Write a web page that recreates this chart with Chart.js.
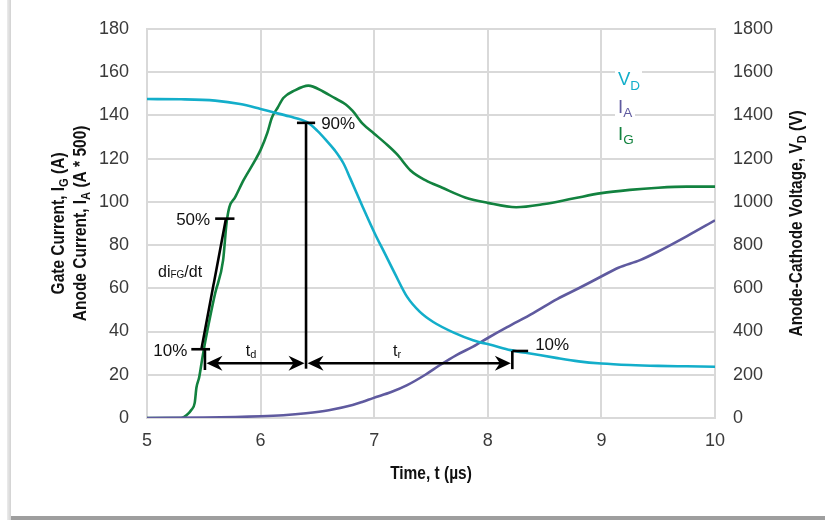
<!DOCTYPE html>
<html>
<head>
<meta charset="utf-8">
<script src="https://cdn.jsdelivr.net/npm/chart.js@4.4.1/dist/chart.umd.min.js"></script>
<style>
  html, body { margin: 0; padding: 0; background: #fff; }
  #wrap { position: relative; width: 825px; height: 520px; overflow: hidden; }
  #frameL { position: absolute; left: 7px; top: 0; width: 4px; height: 520px; background: linear-gradient(to right, #ececec, #d2d2d2); }
  #frameB { position: absolute; left: 11px; bottom: 0; width: 814px; height: 4px; background: #9e9e9e; }
  canvas { position: absolute; left: 0; top: 0; }
</style>
</head>
<body>
<div id="wrap">
  <div id="frameL"></div>
  <div id="frameB"></div>
  <canvas id="switchChart" width="825" height="520"></canvas>
</div>
<script>
// Anode-cathode voltage V_D (V), right axis
const vdTime  = [5.0, 5.3, 5.6, 5.82, 6.0, 6.11, 6.25, 6.41, 6.5, 6.58, 6.65, 6.73, 6.79, 6.9, 7.02, 7.08, 7.18, 7.29, 7.4, 7.52, 7.7, 7.87, 8.05, 8.2, 8.4, 8.6, 8.8, 9.0, 9.25, 9.5, 9.75, 10.0];
const vdVolts = [1475, 1474, 1468, 1452, 1429, 1414, 1395, 1368, 1328, 1283, 1240, 1177, 1107, 975, 837, 775, 670, 560, 492, 444, 395, 360, 335, 314, 296, 278, 262, 252, 245, 241, 239, 237];

// Anode current I_A (A * 500), left axis
const iaTime = [5.0, 5.5, 6.0, 6.2, 6.4, 6.6, 6.81, 6.9, 6.99, 7.15, 7.29, 7.45, 7.58, 7.72, 7.87, 8.0, 8.17, 8.4, 8.61, 8.8, 8.99, 9.15, 9.34, 9.5, 9.75, 10.0];
const iaAmps = [0, 0.2, 0.8, 1.3, 2.2, 3.6, 6, 7.5, 9.2, 12, 15.2, 20, 24.5, 29, 33, 37, 42, 48.5, 55, 60, 65.2, 69.5, 73, 77, 84, 91.4];

// Gate current I_G (A), left axis
const igTime = [5.0, 5.3, 5.35, 5.39, 5.42, 5.435, 5.46, 5.485, 5.51, 5.555, 5.6, 5.67, 5.70, 5.725, 5.775, 5.85, 5.95, 6.0, 6.06, 6.1, 6.15, 6.2, 6.3, 6.42, 6.55, 6.65, 6.75, 6.81, 6.9, 7.0, 7.1, 7.2, 7.32, 7.45, 7.6, 7.8, 8.0, 8.25, 8.5, 8.75, 9.0, 9.25, 9.5, 9.75, 10.0];
const igAmps = [0, 0, 1.4, 3.7, 7, 14, 19, 27, 34.6, 46.6, 57.7, 73, 90, 97.5, 102, 110, 119, 124, 132, 139, 143.5, 148, 151.5, 153.7, 151, 148, 145, 142, 136, 131.5, 127, 122, 114.5, 110, 106.5, 102, 99.5, 97.5, 99, 101.5, 104, 105.5, 106.5, 107, 107];

const FONT = '"Liberation Sans", Arial, sans-serif';
const colVD = '#13aeca';
const colIA = '#5f5a9f';
const colIG = '#12823f';
const gridCol = '#d9d9d9';

const toPoints = (xs, ys) => xs.map((t, i) => ({ x: t, y: ys[i] }));

// timing annotations, in axis units (time, left-axis current)
const markSegments = [
  [5.48, 32.2, 5.695, 92.2],   // di/dt slope
  [5.60, 92.2, 5.77, 92.2],    // 50% tick
  [5.39, 31.8, 5.555, 31.8],   // 10% tick
  [5.51, 31.8, 5.51, 22.2],    // t_d start
  [6.32, 136.5, 6.48, 136.5],  // 90% tick
  [6.40, 136.5, 6.40, 22.8],   // t_d end / t_r start
  [8.216, 31.0, 8.355, 31.0],  // right 10% tick
  [8.216, 31.0, 8.216, 22.6]   // t_r end
];
const markArrows = [
  [5.51, 6.40, 25.3],
  [6.40, 8.216, 25.3]
];

function drawRich(ctx, parts, x, y, o) {
  o = o || {};
  ctx.save();
  ctx.translate(x, y);
  if (o.rotate) ctx.rotate(o.rotate);
  ctx.scale(o.sx || 1, 1);
  ctx.fillStyle = o.color || '#000';
  ctx.textBaseline = 'alphabetic';
  ctx.textAlign = 'left';
  const weight = o.bold ? 'bold ' : '';
  let w = 0;
  parts.forEach(p => { ctx.font = weight + p[1] + 'px ' + FONT; w += ctx.measureText(p[0]).width; });
  let cx = o.align === 'left' ? 0 : (o.align === 'right' ? -w : -w / 2);
  parts.forEach(p => {
    ctx.font = weight + p[1] + 'px ' + FONT;
    ctx.fillText(p[0], cx, p[2] || 0);
    cx += ctx.measureText(p[0]).width;
  });
  ctx.restore();
}

function arrowHead(ctx, x, y, dir) {
  ctx.beginPath();
  ctx.moveTo(x, y);
  ctx.lineTo(x - dir * 16, y - 7.5);
  ctx.lineTo(x - dir * 11, y);
  ctx.lineTo(x - dir * 16, y + 7.5);
  ctx.closePath();
  ctx.fill();
}

const timingPlugin = {
  id: 'timing',
  afterDatasetsDraw(chart) {
    const ctx = chart.ctx;
    const xs = chart.scales.x, ys = chart.scales.y;
    const px = t => xs.getPixelForValue(t);
    const py = v => ys.getPixelForValue(v);
    ctx.save();
    ctx.strokeStyle = '#000';
    ctx.fillStyle = '#000';
    ctx.lineWidth = 2.6;
    markSegments.forEach(s => {
      ctx.beginPath();
      ctx.moveTo(px(s[0]), py(s[1]));
      ctx.lineTo(px(s[2]), py(s[3]));
      ctx.stroke();
    });
    markArrows.forEach(a => {
      const x0 = px(a[0]), x1 = px(a[1]), yy = py(a[2]);
      ctx.beginPath();
      ctx.moveTo(x0 + 6, yy);
      ctx.lineTo(x1 - 6, yy);
      ctx.stroke();
      arrowHead(ctx, x0 + 1.5, yy, -1);
      arrowHead(ctx, x1 - 1.5, yy, 1);
    });
    ctx.restore();

    const lab = { color: '#111' };
    drawRich(ctx, [['50%', 17]], px(5.60) - 5, py(92.2) + 6.5, Object.assign({ align: 'right' }, lab));
    drawRich(ctx, [['90%', 17]], px(6.48) + 6, py(136.5) + 6.5, Object.assign({ align: 'left' }, lab));
    drawRich(ctx, [['10%', 17]], px(5.39) - 4, py(31.8) + 6.5, Object.assign({ align: 'right' }, lab));
    drawRich(ctx, [['10%', 17]], px(8.355) + 7, py(31.0) - 0.5, Object.assign({ align: 'left' }, lab));
    drawRich(ctx, [['t', 16], ['d', 11, 1.5]], px(5.87), py(28.6), Object.assign({ align: 'left' }, lab));
    drawRich(ctx, [['t', 16], ['r', 11, 1.5]], px(7.165), py(28.6), Object.assign({ align: 'left' }, lab));
    drawRich(ctx, [['di', 16], ['FG', 10, 1], ['/dt', 16]], px(5.097), py(65.2), Object.assign({ align: 'left' }, lab));
  },
  afterDraw(chart) {
    const ctx = chart.ctx;
    const a = chart.chartArea;
    const mid = (a.top + a.bottom) / 2;
    const up = -Math.PI / 2;
    const t = { bold: true, sx: 0.86, color: '#111', rotate: up };
    drawRich(ctx, [['Gate Current, I', 18], ['G', 13, 4], [' (A)', 18]], 64, mid, t);
    drawRich(ctx, [['Anode Current, I', 18], ['A', 13, 4], [' (A * 500)', 18]], 86, mid, t);
    drawRich(ctx, [['Anode-Cathode Voltage, V', 18], ['D', 13, 4], [' (V)', 18]], 801.5, mid, t);
    drawRich(ctx, [['Time, t (\u00b5s)', 18]], (a.left + a.right) / 2, 479, { bold: true, sx: 0.86, color: '#111' });

    // series labels
    const lx = a.right - 97;
    const items = [['V', 'D', colVD, 85, 27], ['I', 'A', colIA, 112.5, 20], ['I', 'G', colIG, 139.5, 20]];
    items.forEach(it => {
      ctx.fillStyle = '#fff';
      ctx.fillRect(lx - 3, it[3] - 16, it[4], 25);
      drawRich(ctx, [[it[0], 18.5], [it[1], 13.5, 4.5]], lx, it[3], { align: 'left', color: it[2] });
    });
  }
};

const tickFont = { family: FONT, size: 18 };
const plainTick = v => String(v);

new Chart(document.getElementById('switchChart'), {
  type: 'line',
  data: {
    datasets: [
      { label: 'VD', data: toPoints(vdTime, vdVolts), yAxisID: 'y2', borderColor: colVD },
      { label: 'IA', data: toPoints(iaTime, iaAmps), yAxisID: 'y', borderColor: colIA },
      { label: 'IG', data: toPoints(igTime, igAmps), yAxisID: 'y', borderColor: colIG }
    ]
  },
  options: {
    responsive: false,
    animation: false,
    layout: { padding: { top: 28, left: 0, right: 0, bottom: 0 } },
    elements: {
      point: { radius: 0 },
      line: { borderWidth: 2.6, cubicInterpolationMode: 'monotone', fill: false }
    },
    plugins: { legend: { display: false }, tooltip: { enabled: false } },
    scales: {
      x: {
        type: 'linear', min: 5, max: 10,
        ticks: { stepSize: 1, font: tickFont, color: '#3a3a3a', padding: 12, callback: plainTick },
        grid: { color: gridCol, lineWidth: 2, drawTicks: false },
        border: { color: gridCol, width: 2 },
        afterFit(s) { s.height = 102; }
      },
      y: {
        position: 'left', min: 0, max: 180,
        ticks: { stepSize: 20, font: tickFont, color: '#3a3a3a', padding: 18, callback: plainTick },
        grid: { color: gridCol, lineWidth: 2, drawTicks: false },
        border: { color: gridCol, width: 2 },
        afterFit(s) { s.width = 147; }
      },
      y2: {
        position: 'right', min: 0, max: 1800,
        ticks: { stepSize: 200, font: tickFont, color: '#3a3a3a', padding: 18, callback: plainTick },
        grid: { drawOnChartArea: false, drawTicks: false },
        border: { color: gridCol, width: 2 },
        afterFit(s) { s.width = 110; }
      }
    }
  },
  plugins: [timingPlugin]
});
</script>
</body>
</html>
